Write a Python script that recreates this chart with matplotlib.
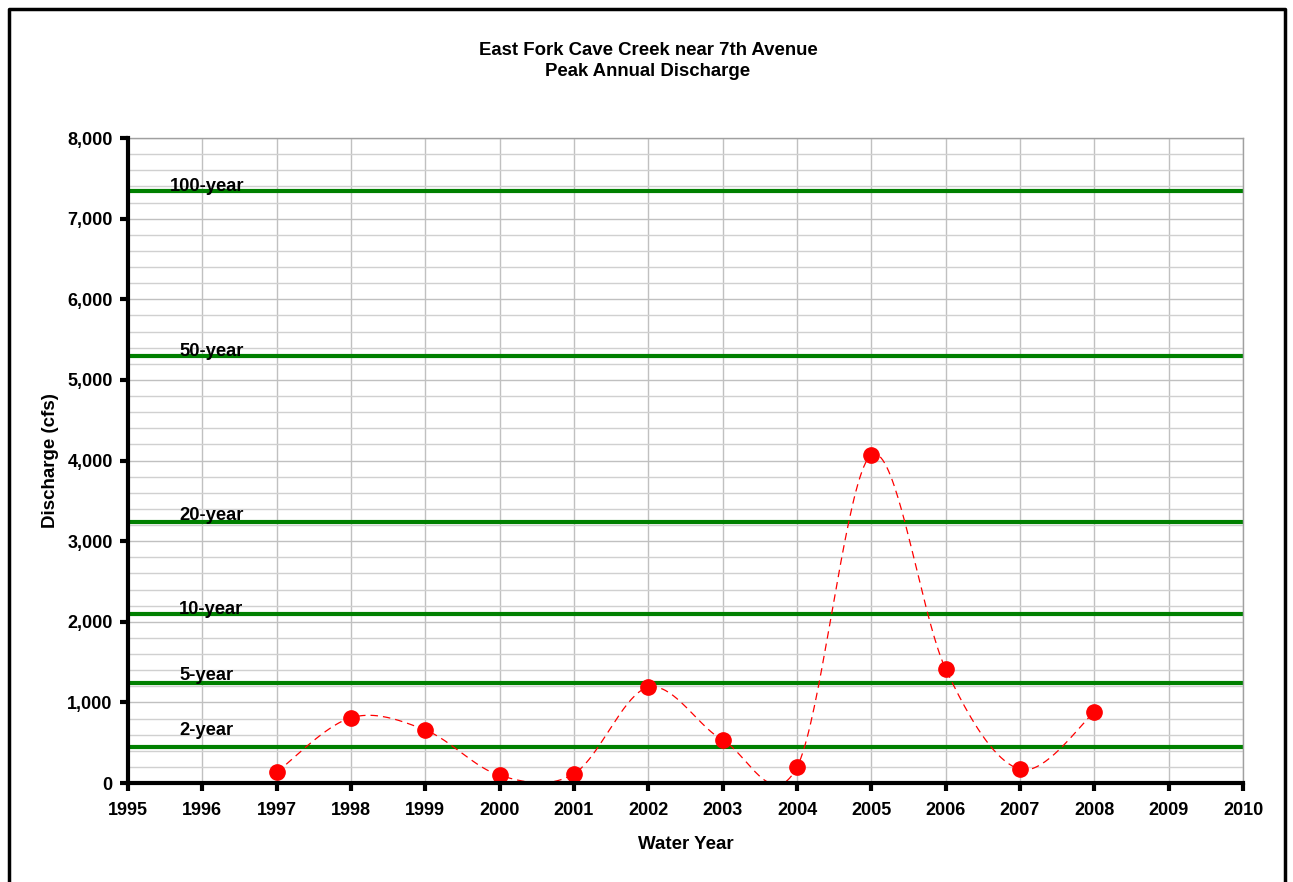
import numpy as np
import matplotlib
matplotlib.use('Agg')
import matplotlib.pyplot as plt
from matplotlib.ticker import MultipleLocator, FuncFormatter

plt.rcParams['font.family'] = ['Liberation Sans', 'DejaVu Sans']
plt.rcParams['font.weight'] = 'bold'

# peak annual discharge (cfs)
years = [1997, 1998, 1999, 2000, 2001, 2002, 2003, 2004, 2005, 2006, 2007, 2008]
peaks = [133, 810, 657, 95, 115, 1187, 533, 198, 4068, 1414, 170, 877]

# return-period flows
rp_labels = ['2-year', '5-year', '10-year', '20-year', '50-year', '100-year']
rp_values = [450, 1237, 2090, 3237, 5296, 7343]


def smooth(xs, ys, n=40):
    # bezier smoothing like a spreadsheet "smoothed line"
    x = np.array(xs, float)
    y = np.array(ys, float)
    xp = np.concatenate([[x[0]], x, [x[-1]]])
    yp = np.concatenate([[y[0]], y, [y[-1]]])
    out_x, out_y = [], []
    t = np.linspace(0, 1, n)
    for i in range(len(x) - 1):
        p0 = np.array([xp[i + 1], yp[i + 1]])
        p3 = np.array([xp[i + 2], yp[i + 2]])
        p1 = p0 + (np.array([xp[i + 2], yp[i + 2]]) - np.array([xp[i], yp[i]])) / 6
        p2 = p3 - (np.array([xp[i + 3], yp[i + 3]]) - np.array([xp[i + 1], yp[i + 1]])) / 6
        b = ((1 - t) ** 3)[:, None] * p0 + (3 * (1 - t) ** 2 * t)[:, None] * p1 \
            + (3 * (1 - t) * t ** 2)[:, None] * p2 + (t ** 3)[:, None] * p3
        out_x.extend(b[:, 0])
        out_y.extend(b[:, 1])
    return out_x, out_y


fig = plt.figure(figsize=(12.93, 8.82), dpi=100)
ax = fig.add_axes([128 / 1293, 1 - 783 / 882, (1243 - 128) / 1293, (783 - 138) / 882])

ax.set_xlim(1995, 2010)
ax.set_ylim(0, 8000)
ax.xaxis.set_major_locator(MultipleLocator(1))
ax.yaxis.set_major_locator(MultipleLocator(1000))
ax.yaxis.set_minor_locator(MultipleLocator(200))
ax.yaxis.set_major_formatter(FuncFormatter(lambda v, p: '{:,.0f}'.format(v)))

ax.grid(True, which='major', axis='both', color='#c0c0c0', linewidth=1)
ax.grid(True, which='minor', axis='y', color='#d0d0d0', linewidth=1)
ax.set_axisbelow(True)

# label placement: pixels right of the y axis, pixels of baseline above the line
lab_dx = [51, 51, 51, 51, 51, 42]
lab_dy = [12, 3.5, 0, 2, 0, 0]
for v, lab, dx, dy in zip(rp_values, rp_labels, lab_dx, lab_dy):
    ax.axhline(v, color='#008000', linewidth=3, zorder=2)
    ax.annotate(lab, xy=(1995, v), xytext=(dx * 0.72, dy * 0.72), textcoords='offset points',
                ha='left', va='baseline', fontsize=13.2, fontweight='bold', zorder=3)

sx, sy = smooth(years, peaks)
ax.plot(sx, sy, color='red', linestyle=(0, (6, 4)), linewidth=0.9, zorder=3)
ax.plot(years, peaks, 'o', color='red', markersize=11, zorder=4)

for side in ['top', 'right']:
    ax.spines[side].set_color('#a0a0a0')
    ax.spines[side].set_linewidth(1)
for side in ['left', 'bottom']:
    ax.spines[side].set_color('black')
    ax.spines[side].set_linewidth(3)
    ax.spines[side].set_zorder(5)

ax.tick_params(axis='both', which='major', direction='out', length=6, width=3,
               labelsize=13)
ax.tick_params(axis='x', pad=8)
ax.tick_params(axis='y', pad=5)
ax.tick_params(axis='y', which='minor', length=0)
for lab in ax.get_xticklabels() + ax.get_yticklabels():
    lab.set_fontweight('bold')

ax.set_xlabel('Water Year', fontsize=13.5, fontweight='bold', labelpad=12)
ax.set_ylabel('Discharge (cfs)', fontsize=13.5, fontweight='bold', labelpad=6)
fig.text(648 / 1293, 1 - 61 / 882, 'East Fork Cave Creek near 7th Avenue\nPeak Annual Discharge',
         ha='center', va='center', fontsize=13.4, fontweight='bold', linespacing=1.3)

# outer chart frame (left, top, right)
fig.add_artist(plt.Line2D([9 / 1293, 9 / 1293, 1285 / 1293, 1285 / 1293],
                          [0, 1 - 9 / 882, 1 - 9 / 882, 0],
                          transform=fig.transFigure, color='black', linewidth=2.5))

fig.savefig('out.png', dpi=100)
